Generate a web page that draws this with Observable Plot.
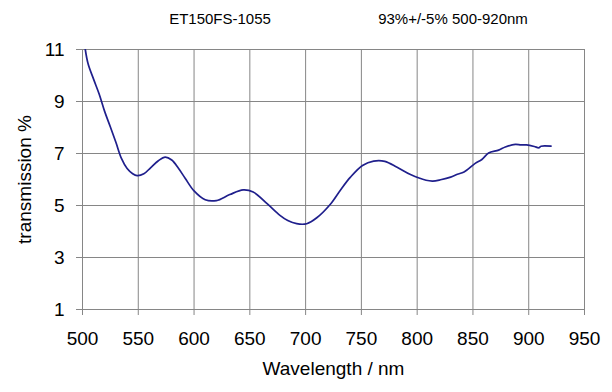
<!DOCTYPE html>
<html>
<head>
<meta charset="utf-8">
<script src="https://cdn.jsdelivr.net/npm/d3@7"></script>
<script src="https://cdn.jsdelivr.net/npm/@observablehq/plot@0.6"></script>
<style>
  html, body { margin: 0; padding: 0; background: #ffffff; }
  #wrap { position: relative; width: 612px; height: 392px; font-family: "Liberation Sans", Arial, sans-serif; }
  .ttl { position: absolute; top: 10px; font-size: 15px; color: #000; white-space: nowrap; transform: translateX(-50%); }
</style>
</head>
<body>
<div id="wrap">
  <div class="ttl" style="left:220px">ET150FS-1055</div>
  <div class="ttl" style="left:453px">93%+/-5% 500-920nm</div>
</div>
<script>
const wavelength = [502.5, 505, 510, 515, 520, 525, 530, 535, 540, 545, 549, 555, 561, 568, 574, 580, 586, 592, 600, 610, 620, 632, 644, 653, 666, 677, 684, 692, 701, 710, 722, 731, 740, 751, 761, 771, 782, 794, 808, 814, 821, 830, 836, 842, 852, 858, 864, 873, 879, 888, 893, 898, 905, 909, 911, 920];
const transmission = [11.0, 10.45, 9.85, 9.28, 8.6, 8.02, 7.42, 6.8, 6.42, 6.22, 6.15, 6.22, 6.45, 6.72, 6.86, 6.75, 6.43, 6.05, 5.56, 5.22, 5.19, 5.42, 5.60, 5.52, 5.05, 4.62, 4.42, 4.30, 4.30, 4.53, 5.04, 5.58, 6.08, 6.54, 6.71, 6.70, 6.47, 6.19, 5.97, 5.94, 5.99, 6.09, 6.2, 6.29, 6.62, 6.77, 7.02, 7.13, 7.25, 7.35, 7.33, 7.33, 7.27, 7.22, 7.28, 7.28];
const xTicks = [500, 550, 600, 650, 700, 750, 800, 850, 900, 950];
const yTicks = [1, 3, 5, 7, 9, 11];

const data = wavelength.map((w, i) => ({w, t: transmission[i]}));
const gridColor = "#868686";

const chart = Plot.plot({
  width: 612,
  height: 392,
  marginLeft: 82,
  marginRight: 28,
  marginTop: 49,
  marginBottom: 83,
  style: {fontFamily: "'Liberation Sans', Arial, sans-serif", fontSize: "19px", color: "#000", background: "transparent"},
  x: {domain: [500, 950], label: null},
  y: {domain: [1, 11], label: null},
  marks: [
    Plot.gridX(xTicks, {stroke: gridColor, strokeOpacity: 1}),
    Plot.gridY(yTicks, {stroke: gridColor, strokeOpacity: 1}),
    Plot.frame({stroke: gridColor}),
    Plot.axisX(xTicks, {tickSize: 6, stroke: gridColor, tickPadding: 16, fontSize: 19, label: "Wavelength / nm", labelAnchor: "center", labelOffset: 65, labelArrow: "none"}),
    Plot.axisY(yTicks, {tickSize: 6, stroke: gridColor, tickPadding: 12, fontSize: 19, label: "transmission %", labelAnchor: "center", labelOffset: 65, labelArrow: "none"}),
    Plot.line(data, {x: "w", y: "t", stroke: "#1f1f8c", strokeWidth: 1.7, curve: "catmull-rom", clip: true})
  ]
});
chart.style.position = "absolute";
chart.style.left = "0";
chart.style.top = "0";
document.getElementById("wrap").appendChild(chart);
</script>
</body>
</html>
